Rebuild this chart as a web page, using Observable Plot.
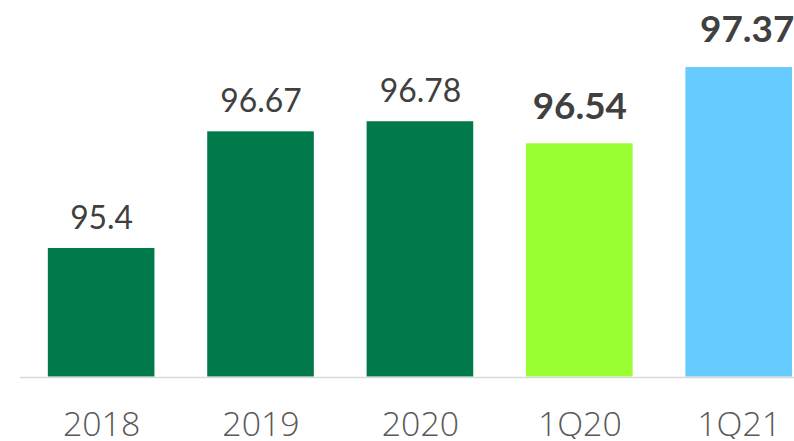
<!DOCTYPE html>
<html>
<head>
<meta charset="utf-8">
<script src="https://cdn.jsdelivr.net/npm/d3@7"></script>
<script src="https://cdn.jsdelivr.net/npm/@observablehq/plot@0.6"></script>
<style>
  html, body { margin: 0; padding: 0; background: #fff; overflow: hidden; }
  #chart { width: 794px; height: 441px; overflow: hidden; }
</style>
</head>
<body>
<div id="chart"></div>
<script>
const categories = ["2018", "2019", "2020", "1Q20", "1Q21"];
const values = [95.4, 96.67, 96.78, 96.54, 97.37];
const colors = ["#007A4A", "#007A4A", "#007A4A", "#99FF33", "#66CCFF"];
const boldLabels = [false, false, false, true, true];
const yBase = 94;

const data = categories.map((c, i) => ({
  cat: c, value: values[i], color: colors[i], bold: boldLabels[i], last: i === categories.length - 1
}));
const regular = data.filter(d => !d.bold);
const boldMid = data.filter(d => d.bold && !d.last);
const boldLast = data.filter(d => d.bold && d.last);

const chart = Plot.plot({
  width: 797,
  height: 441,
  marginLeft: 47,
  marginRight: 0,
  marginTop: 0,
  marginBottom: 63,
  x: { domain: categories, paddingInner: 0.33, paddingOuter: 0, axis: null, label: null },
  y: { domain: [yBase, 98.1], axis: null },
  style: { fontFamily: "Lato, 'Open Sans', sans-serif", background: "#fff", overflow: "hidden" },
  marks: [
    Plot.barY(data, { x: "cat", y1: () => yBase, y2: "value", fill: d => d.color }),
    Plot.ruleY([yBase], { stroke: "#d9d9d9", strokeWidth: 1.5, insetLeft: -27, dy: 0.5 }),
    Plot.text(regular, {
      x: "cat", y: "value", text: d => String(d.value),
      lineAnchor: "bottom", dy: -20, fontSize: 32, fill: "#404040",
      fontFamily: "Lato, sans-serif"
    }),
    Plot.text(boldMid, {
      x: "cat", y: "value", text: d => String(d.value),
      lineAnchor: "bottom", dy: -25, fontSize: 37, fontWeight: "bold", fill: "#404040",
      fontFamily: "Lato, sans-serif"
    }),
    Plot.text(boldLast, {
      x: "cat", y: "value", text: d => String(d.value),
      lineAnchor: "bottom", dy: -26, dx: 8, fontSize: 37, fontWeight: "bold", fill: "#404040",
      fontFamily: "Lato, sans-serif"
    }),
    Plot.axisX({
      label: null, tickSize: 0, tickPadding: 35, fontSize: 34, fontWeight: 300,
      fill: "#595959", fontFamily: "'Open Sans', sans-serif"
    })
  ]
});
document.getElementById("chart").appendChild(chart);
</script>
</body>
</html>
